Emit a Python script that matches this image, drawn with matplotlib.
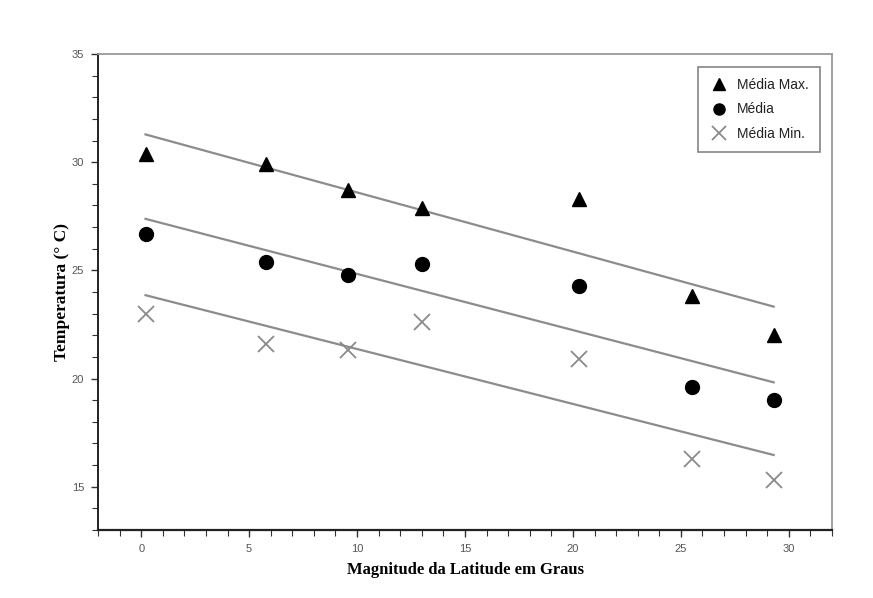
import matplotlib
matplotlib.use('Agg')
import matplotlib.pyplot as plt
from matplotlib.ticker import MultipleLocator
import numpy as np

# latitude magnitude (degrees) and temperatures (deg C)
lat = [0.2, 5.8, 9.6, 13.0, 20.3, 25.5, 29.3]
tMax = [30.4, 29.9, 28.7, 27.9, 28.3, 23.8, 22.0]
tMean = [26.7, 25.4, 24.8, 25.3, 24.3, 19.6, 19.0]
tMin = [23.0, 21.6, 21.3, 22.6, 20.9, 16.3, 15.3]

sans = ['Liberation Sans', 'DejaVu Sans']

fig = plt.figure(figsize=(8.73, 5.98), dpi=100)
ax = fig.add_axes([0.1123, 0.1137, 0.8407, 0.796])

x = np.array(lat)
for ys in (tMax, tMean, tMin):
    a, b = np.polyfit(x, ys, 1)
    ax.plot([x.min(), x.max()], [a * x.min() + b, a * x.max() + b],
            color='#8c8c8c', lw=1.6, zorder=1)

ax.plot(lat, tMax, '^', color='black', ms=10, ls='none', label='Média Max.', zorder=3)
ax.plot(lat, tMean, 'o', color='black', ms=10, ls='none', label='Média', zorder=3)
ax.plot(lat, tMin, 'x', color='#8a8a8a', ms=12, mew=1.3, ls='none', label='Média Min.', zorder=3)

ax.set_xlim(-2, 32)
ax.set_ylim(13, 35)
ax.set_xticks([0, 5, 10, 15, 20, 25, 30])
ax.set_yticks([15, 20, 25, 30, 35])
ax.xaxis.set_minor_locator(MultipleLocator(1))
ax.yaxis.set_minor_locator(MultipleLocator(1))
ax.tick_params(which='both', direction='out', colors='#333333', labelcolor='#555555',
               labelsize=8, top=False, right=False)
ax.tick_params(which='major', length=5, width=1, pad=5)
ax.tick_params(which='minor', length=4, width=0.8)
for lbl in ax.get_xticklabels() + ax.get_yticklabels():
    lbl.set_family(sans)

ax.spines['left'].set_color('#222222')
ax.spines['bottom'].set_color('#222222')
ax.spines['left'].set_linewidth(1.4)
ax.spines['bottom'].set_linewidth(1.6)
ax.spines['top'].set_color('#999999')
ax.spines['right'].set_color('#999999')
ax.spines['top'].set_linewidth(1.3)
ax.spines['right'].set_linewidth(1.3)

ax.set_xlabel('Magnitude da Latitude em Graus', family='Liberation Serif',
              fontweight='bold', fontsize=12, labelpad=6)
ax.set_ylabel('Temperatura (° C)', family='Liberation Serif',
              fontweight='bold', fontsize=12.5, labelpad=1)

leg = ax.legend(loc='upper right', bbox_to_anchor=(0.984, 0.973), borderaxespad=0,
                frameon=True, fancybox=False, edgecolor='#666666',
                handletextpad=0.6, borderpad=0.8, labelspacing=0.75,
                handlelength=1.4, markerscale=0.8,
                prop={'family': sans, 'size': 10})
leg.get_frame().set_linewidth(1.2)
for t in leg.get_texts():
    t.set_color('#222222')

fig.savefig('out.png', dpi=100)
